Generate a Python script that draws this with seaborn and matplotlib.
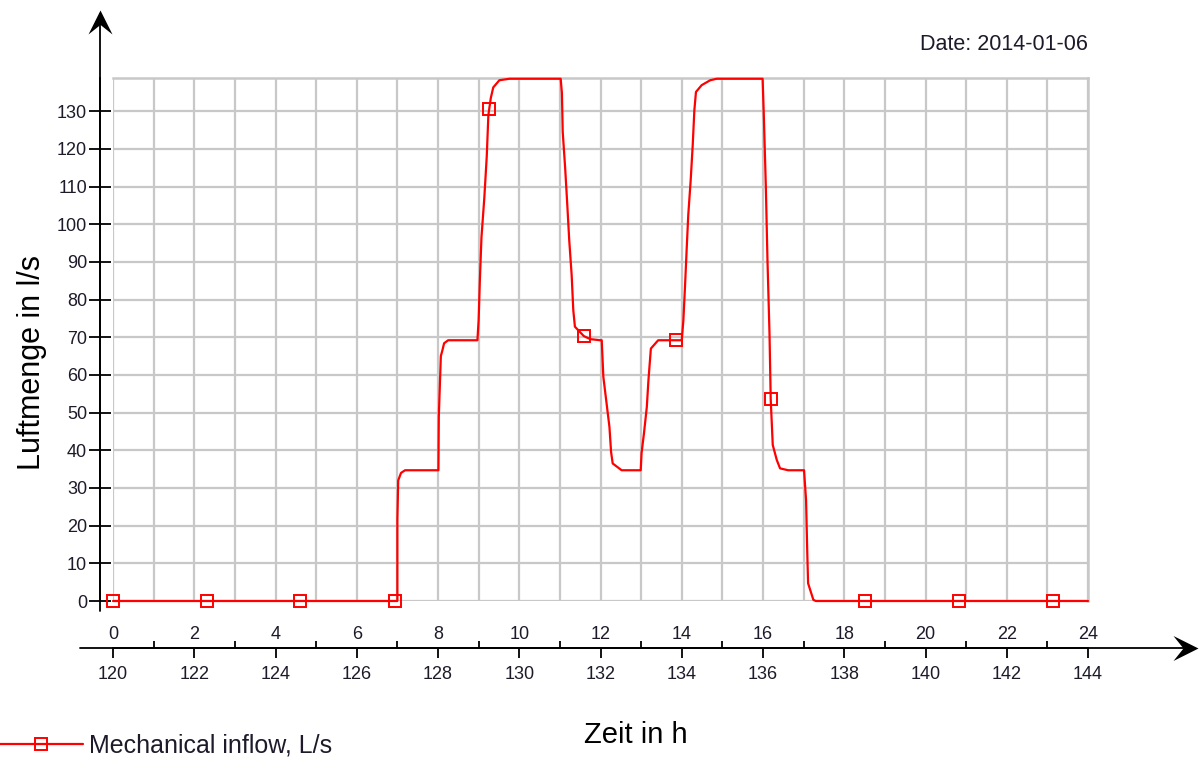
import numpy as np
import pandas as pd
import matplotlib
matplotlib.use("Agg")
import matplotlib.pyplot as plt
from matplotlib.lines import Line2D
from matplotlib.path import Path
from matplotlib.ticker import FixedLocator, FixedFormatter
import seaborn as sns

# ---------------- data ----------------
hours = [0, 7.00, 7.00, 7.02, 7.09, 7.19, 8.01, 8.02, 8.07, 8.11, 8.15, 8.25, 8.97,
         9.00, 9.03, 9.07, 9.14, 9.20, 9.24, 9.30, 9.36, 9.51, 9.76, 11.02,
         11.05, 11.07, 11.13, 11.18, 11.23, 11.29, 11.33, 11.37, 11.59, 11.75, 11.99,
         12.03, 12.07, 12.15, 12.22, 12.26, 12.30, 12.52, 12.99,
         13.01, 13.07, 13.14, 13.18, 13.24, 13.42, 14.00,
         14.04, 14.08, 14.12, 14.16, 14.22, 14.27, 14.31, 14.35, 14.49, 14.70, 14.86, 15.99,
         16.02, 16.07, 16.11, 16.16, 16.19, 16.24, 16.34, 16.42, 16.62, 17.01,
         17.06, 17.09, 17.11, 17.24, 17.30, 24.0]
flow = [0, 0, 21.5, 32.0, 34.0, 34.7, 34.7, 49.0, 65.0, 66.6, 68.4, 69.2, 69.2,
        74.5, 85.0, 96.5, 107.0, 118.0, 129.0, 133.5, 136.3, 138.2, 138.6, 138.6,
        134.8, 124.5, 114.9, 105.6, 95.8, 86.5, 77.2, 72.8, 70.3, 69.5, 69.2,
        69.2, 59.5, 52.4, 46.2, 39.6, 36.5, 34.7, 34.7,
        39.2, 44.5, 51.5, 58.6, 67.0, 69.2, 69.2,
        74.5, 83.4, 93.1, 102.4, 111.7, 121.0, 130.2, 135.1, 136.9, 138.2, 138.6, 138.6,
        128.9, 109.9, 90.5, 71.0, 53.5, 41.4, 37.4, 35.2, 34.7, 34.7,
        26.8, 12.7, 4.7, 0.3, 0, 0]
marker_hours = [0, 2.31, 4.61, 6.94, 9.26, 11.59, 13.87, 16.19, 18.51, 20.83, 23.14]

hour_ticks = list(range(0, 25, 2))
hour_labels = [str(h) for h in hour_ticks]
abs_labels = [str(120 + h) for h in hour_ticks]
y_ticks = list(range(0, 140, 10))
series_name = "Mechanical inflow, L/s"
date_text = "Date: 2014-01-06"
y_title = "Luftmenge in l/s"
x_title = "Zeit in h"

df = pd.DataFrame({"h": hours, "v": flow})
mk = pd.DataFrame({"h": marker_hours, "v": np.interp(marker_hours, hours, flow)})

# ---------------- style ----------------
sns.set_theme(style="white")
plt.rcParams["font.family"] = ["Liberation Sans", "DejaVu Sans"]

RED = "#ff0000"
GRID = "#c8c8c8"
TXT = "#1e1a2a"
PX = 72 / 100  # points per pixel

fig = plt.figure(figsize=(12, 7.58), dpi=100)
W, H = 1200, 758
L, R, T, B = 113, 1088, 78, 601
ax = fig.add_axes([L / W, 1 - B / H, (R - L) / W, (B - T) / H])


def fx(px):
    return (px - L) / (R - L)


def fy(py):
    return (B - py) / (B - T)


sns.lineplot(data=df, x="h", y="v", estimator=None, sort=False, color=RED,
             linewidth=1.6, ax=ax, zorder=3, clip_on=False)
sns.lineplot(data=mk, x="h", y="v", estimator=None, sort=False, color=RED,
             linestyle="", marker="s", markersize=9, markerfacecolor="none",
             markeredgecolor=RED, markeredgewidth=1.4, ax=ax, zorder=4,
             clip_on=False)

ax.set_xlim(0, 24)
ax.set_ylim(0, 138.8)

# grid
ax.xaxis.set_major_locator(FixedLocator(hour_ticks))
ax.xaxis.set_minor_locator(FixedLocator(list(range(1, 24, 2))))
ax.xaxis.set_major_formatter(FixedFormatter(abs_labels))
ax.set_yticks(y_ticks)
ax.set_yticklabels([str(v) for v in y_ticks])
ax.grid(False)
ax.xaxis.grid(True, which="both", color=GRID, linewidth=1.6)
ax.yaxis.grid(True, which="major", color=GRID, linewidth=1.6)
ax.set_axisbelow(True)

for s in ["top", "right"]:
    ax.spines[s].set_color(GRID)
    ax.spines[s].set_linewidth(1.8)

# y axis (moved outward)
ax.spines["left"].set_position(("outward", 13 * PX))
ax.spines["left"].set_color("black")
ax.spines["left"].set_linewidth(1.3)
ax.tick_params(axis="y", which="major", direction="inout", length=23 * PX, width=1.3,
               color="black", labelsize=13, labelcolor=TXT, pad=1, left=True)

# x axis (moved outward)
ax.spines["bottom"].set_position(("outward", 47 * PX))
ax.spines["bottom"].set_color("black")
ax.spines["bottom"].set_linewidth(1.3)
ax.tick_params(axis="x", which="major", direction="out", length=10 * PX, width=1.3,
               color="black", labelsize=13, labelcolor=TXT, pad=5.5, bottom=True)
ax.tick_params(axis="x", which="minor", direction="in", length=7 * PX, width=1.3,
               color="black", bottom=True)

# labels above the x axis line (hours of the day)
sec = ax.secondary_xaxis(fy(648))
sec.set_alignment("top")
sec.spines["top"].set_visible(False)
sec.spines["bottom"].set_visible(False)
sec.xaxis.set_major_locator(FixedLocator(hour_ticks))
sec.xaxis.set_major_formatter(FixedFormatter(hour_labels))
sec.tick_params(axis="x", length=0, labelsize=13, labelcolor=TXT, pad=3.5)

# axis lines with arrow heads
ax.plot([fx(100), fx(100)], [fy(611), fy(14)], color="black", lw=1.3,
        transform=ax.transAxes, clip_on=False, zorder=5)
ax.plot([fx(80), fx(1192)], [fy(648), fy(648)], color="black", lw=1.3,
        transform=ax.transAxes, clip_on=False, zorder=5)
head_up = Path([(0, 0), (-0.5, -1), (0, -0.6), (0.5, -1), (0, 0)],
               [Path.MOVETO, Path.LINETO, Path.LINETO, Path.LINETO, Path.CLOSEPOLY])
head_right = Path([(0, 0), (-1, 0.5), (-0.6, 0), (-1, -0.5), (0, 0)],
                  [Path.MOVETO, Path.LINETO, Path.LINETO, Path.LINETO, Path.CLOSEPOLY])
ax.plot([fx(100)], [fy(10)], marker=head_up, markersize=48 * PX, color="black",
        markeredgewidth=0, linestyle="", transform=ax.transAxes, clip_on=False, zorder=6)
ax.plot([fx(1198)], [fy(648)], marker=head_right, markersize=50 * PX, color="black",
        markeredgewidth=0, linestyle="", transform=ax.transAxes, clip_on=False, zorder=6)

# titles
ax.set_xlabel(x_title, fontsize=21, color="black")
ax.xaxis.set_label_coords(fx(636), fy(721))
ax.set_ylabel(y_title, fontsize=22, color="black")
ax.yaxis.set_label_coords(fx(47), fy(362))

ax.text(1.0, fy(44), date_text, transform=ax.transAxes,
        ha="right", va="center", fontsize=15.5, color=TXT)

# legend
handle = Line2D([0], [0], color=RED, linewidth=1.6, marker="s", markersize=8,
                markerfacecolor="none", markeredgecolor=RED, markeredgewidth=1.4)
fig.legend([handle], [series_name], loc="center left",
           bbox_to_anchor=(0.0, 1 - 746 / H), frameon=False, fontsize=18,
           handlelength=3.3, handletextpad=0.25, borderpad=0, borderaxespad=0,
           labelcolor=TXT)

fig.savefig("out.png", dpi=100)
